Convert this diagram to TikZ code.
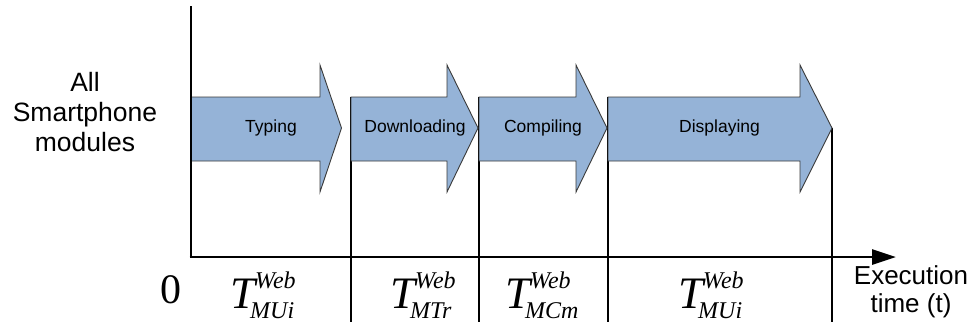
\documentclass[tikz,border=0pt]{standalone}
\usepackage{fontspec}
\usetikzlibrary{arrows.meta}
\setmainfont{Liberation Sans}
\newfontfamily\timesfont{Liberation Serif}
\definecolor{stepblue}{HTML}{95B3D7}
\definecolor{stepedge}{HTML}{3A3A3A}
% T with stacked superscript and subscript, set in Times-like italic
\newcommand\tweb[1]{{\timesfont\itshape\fontsize{45}{45}\selectfont T\fontsize{24}{24}\selectfont\rlap{\raisebox{20pt}{Web}}\kern-5pt\raisebox{-10pt}{#1}}}
\begin{document}
\begin{tikzpicture}[x=1pt,y=-1pt,
  phase/.style={fill=stepblue,draw=stepedge,line width=0.9pt,line join=miter},
  phaselabel/.style={font=\fontsize{17.5}{18}\selectfont,inner sep=0pt},
  divider/.style={draw=black,line width=1.3pt},
  axis/.style={draw=black,line width=2.8pt},
  sidetext/.style={font=\fontsize{26.5}{30}\selectfont,align=center,inner sep=0pt},
  tlabel/.style={anchor=base west,inner sep=0pt}]
\useasboundingbox (0,0) rectangle (977,330);

% time-slot dividers
\draw[divider] (351,97) -- (351,322);
\draw[divider] (479,97) -- (479,322);
\draw[divider] (608,97) -- (608,322);
\draw[divider] (832,128) -- (832,322);

% phase arrows
\path[phase] (191,97) -- (320,97) -- (320,65) -- (341.5,128) -- (320,192) -- (320,161) -- (191,161) -- cycle;
\path[phase] (351,97) -- (447,97) -- (447,65) -- (478,128) -- (447,192) -- (447,161) -- (351,161) -- cycle;
\path[phase] (479,97) -- (576,97) -- (576,65) -- (607,128) -- (576,192) -- (576,161) -- (479,161) -- cycle;
\path[phase] (608,97) -- (800,97) -- (800,65) -- (832,128) -- (800,192) -- (800,161) -- (608,161) -- cycle;

\node[phaselabel] (typing) at (271,128) {Typing};
\node[phaselabel] (down) at (415,128) {Downloading};
\node[phaselabel] (comp) at (543,128) {Compiling};
\node[phaselabel] (disp) at (719.5,128) {Displaying};

% axes
\coordinate (origin) at (191,257);
\coordinate (ytop) at (191,6);
\coordinate (xend) at (896,257);
\draw[axis] (ytop) -- (origin);
\draw[axis,-{Triangle[length=24pt,width=15pt]}] ([xshift=-1.4pt]origin) -- (xend);

% axis texts
\node[sidetext] (modules) at (85,112) {All\\Smartphone\\modules};
\node[sidetext,font=\fontsize{26}{28}\selectfont] (exec) at (911,292) {Execution\\time (t)};
\node[anchor=base,inner sep=0pt,font=\timesfont\fontsize{42}{42}\selectfont] (zero) at (171,303) {0};

% phase durations
\node[tlabel] (t1) at (230,308) {\tweb{MUi}};
\node[tlabel] (t2) at (390,308) {\tweb{MTr}};
\node[tlabel] (t3) at (505,308) {\tweb{MCm}};
\node[tlabel] (t4) at (678,308) {\tweb{MUi}};
\end{tikzpicture}
\end{document}
